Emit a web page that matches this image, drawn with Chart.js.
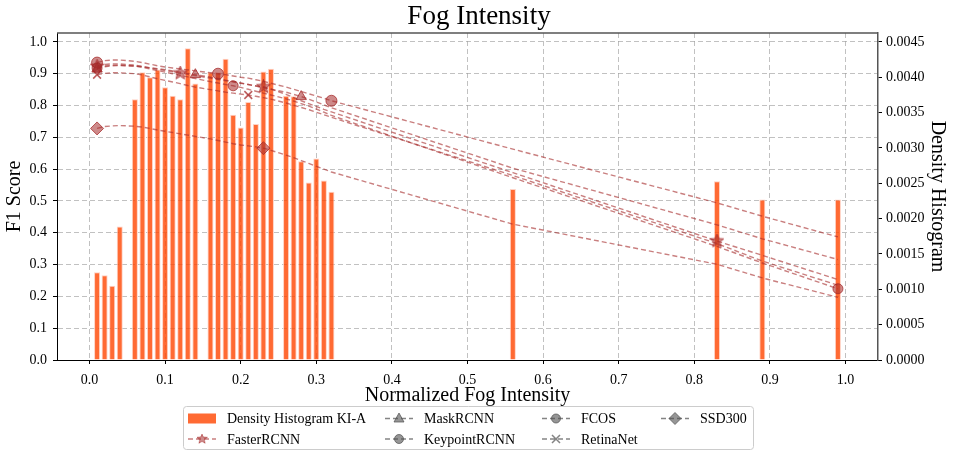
<!DOCTYPE html>
<html>
<head>
<meta charset="utf-8">
<script src="https://cdn.jsdelivr.net/npm/chart.js@4.4.1/dist/chart.umd.min.js"></script>
<style>
  html, body { margin: 0; padding: 0; background: #fff; }
  #wrap { width: 958px; height: 455px; }
</style>
</head>
<body>
<div id="wrap"><canvas id="fog" width="958" height="455"></canvas></div>
<script>
// bin centres of the fog intensity histogram (also the x of every curve point)
const binX = [0.01, 0.02, 0.03, 0.04,
  0.06, 0.07, 0.08, 0.09, 0.10, 0.11, 0.12, 0.13, 0.14,
  0.16, 0.17, 0.18, 0.19, 0.20, 0.21, 0.22, 0.23, 0.24,
  0.26, 0.27, 0.28, 0.29, 0.30, 0.31, 0.32,
  0.56, 0.83, 0.89, 0.99];

const densityKIA = [0.00124, 0.00120, 0.00105, 0.00189,
  0.00369, 0.00407, 0.00400, 0.00411, 0.00386, 0.00374, 0.00369, 0.00441, 0.00391,
  0.00407, 0.00407, 0.00426, 0.00347, 0.00329, 0.00365, 0.00334, 0.00408, 0.00412,
  0.00374, 0.00373, 0.00281, 0.00251, 0.00285, 0.00254, 0.00238,
  0.00242, 0.00253, 0.00227, 0.00227];

const fasterRCNN = [0.923, 0.929, 0.931, 0.931,
  0.927, 0.923, 0.918, 0.914, 0.910, 0.906, 0.902, 0.898, 0.894,
  0.886, 0.882, 0.878, 0.874, 0.870, 0.866, 0.862, 0.859, 0.852,
  0.835, 0.825, 0.815, 0.806, 0.797, 0.788, 0.780,
  0.589, 0.374, 0.329, 0.253];

const maskRCNN = [0.915, 0.922, 0.925, 0.926,
  0.924, 0.922, 0.919, 0.916, 0.913, 0.909, 0.905, 0.901, 0.897,
  0.889, 0.885, 0.880, 0.876, 0.871, 0.866, 0.861, 0.856, 0.851,
  0.842, 0.835, 0.828, 0.820, 0.811, 0.802, 0.793,
  0.603, 0.425, 0.381, 0.316];

const keypointRCNN = [0.935, 0.941, 0.943, 0.943,
  0.939, 0.935, 0.930, 0.925, 0.921, 0.918, 0.915, 0.912, 0.909,
  0.903, 0.900, 0.897, 0.893, 0.889, 0.886, 0.881, 0.876, 0.870,
  0.858, 0.851, 0.844, 0.837, 0.830, 0.823, 0.815,
  0.663, 0.494, 0.452, 0.387];

const fcos = [0.918, 0.924, 0.927, 0.927,
  0.924, 0.920, 0.915, 0.910, 0.905, 0.900, 0.895, 0.890, 0.885,
  0.875, 0.871, 0.866, 0.862, 0.857, 0.851, 0.845, 0.839, 0.833,
  0.821, 0.814, 0.806, 0.798, 0.789, 0.779, 0.769,
  0.573, 0.357, 0.305, 0.224];

const retinaNet = [0.897, 0.901, 0.903, 0.903,
  0.900, 0.896, 0.890, 0.884, 0.879, 0.874, 0.869, 0.863, 0.858,
  0.850, 0.846, 0.842, 0.839, 0.836, 0.833, 0.829, 0.825, 0.820,
  0.808, 0.801, 0.794, 0.787, 0.779, 0.771, 0.763,
  0.580, 0.366, 0.311, 0.235];

const ssd300 = [0.728, 0.734, 0.736, 0.737,
  0.735, 0.732, 0.728, 0.723, 0.719, 0.715, 0.711, 0.707, 0.703,
  0.695, 0.690, 0.685, 0.680, 0.676, 0.673, 0.670, 0.666, 0.659,
  0.644, 0.636, 0.627, 0.618, 0.609, 0.600, 0.591,
  0.427, 0.301, 0.258, 0.197];

const FONT = "'Liberation Serif', 'DejaVu Serif', serif";
const lineColor = 'rgba(165,42,42,0.6)';
const markFill = 'rgba(165,42,42,0.55)';
const markEdge = 'rgba(165,42,42,0.75)';
const legendGray = 'rgba(80,80,80,0.7)';

Chart.defaults.font.family = FONT;
Chart.defaults.color = '#000';

function makeStar(size, fill, stroke) {
    const c = document.createElement('canvas');
    c.width = size; c.height = size;
    const g = c.getContext('2d');
    const cx = size / 2, cy = size / 2;
    g.beginPath();
    for (let i = 0; i < 10; i++) {
        const a = -Math.PI / 2 + i * Math.PI / 5;
        const r = i % 2 ? size * 0.21 : size * 0.48;
        const px = cx + r * Math.cos(a), py = cy + r * Math.sin(a);
        if (i == 0) g.moveTo(px, py); else g.lineTo(px, py);
    }
    g.closePath();
    g.fillStyle = fill;
    g.fill();
    g.strokeStyle = stroke;
    g.lineWidth = 1;
    g.stroke();
    return c;
}
const starImg = makeStar(15, markFill, markEdge);

function toPoints(arr) {
    return binX.map((x, i) => ({ x: x, y: arr[i] }));
}

function curve(label, arr, style, radius, every) {
    return {
        type: 'line',
        label: label,
        data: toPoints(arr),
        yAxisID: 'y',
        order: 1,
        borderColor: lineColor,
        borderWidth: 1.4,
        borderDash: [5, 3],
        fill: false,
        tension: 0,
        pointStyle: style,
        pointRadius: (ctx) => ctx.dataIndex % every === 0 ? radius : 0,
        pointHoverRadius: 0,
        pointBackgroundColor: markFill,
        pointBorderColor: markEdge,
        pointBorderWidth: style == 'crossRot' ? 1.6 : 1
    };
}

const datasets = [
    {
        type: 'bar',
        label: 'Density Histogram KI-A',
        data: toPoints(densityKIA),
        yAxisID: 'y2',
        order: 10,
        backgroundColor: 'rgba(255,69,0,0.8)',
        borderColor: 'rgba(255,205,190,0.9)',
        borderWidth: 1,
        barPercentage: 0.8,
        categoryPercentage: 1
    },
    curve('FasterRCNN', fasterRCNN, starImg, 7, 10),
    curve('MaskRCNN', maskRCNN, 'triangle', 6, 12),
    curve('KeypointRCNN', keypointRCNN, 'circle', 5.5, 14),
    curve('FCOS', fcos, 'circle', 5, 16),
    curve('RetinaNet', retinaNet, 'crossRot', 5.5, 18),
    curve('SSD300', ssd300, 'rectRot', 6.5, 20)
];

function drawMarker(ctx, style, x, y, fill, edge) {
    ctx.save();
    ctx.fillStyle = fill;
    ctx.strokeStyle = edge;
    ctx.lineWidth = 1;
    ctx.beginPath();
    if (style === starImg) {
        ctx.drawImage(starImg, x - 5.5, y - 5.5, 11, 11);
        ctx.restore();
        return;
    }
    if (style == 'triangle') {
        ctx.moveTo(x, y - 5.5);
        ctx.lineTo(x + 5, y + 3.5);
        ctx.lineTo(x - 5, y + 3.5);
        ctx.closePath();
        ctx.fill(); ctx.stroke();
    } else if (style == 'circle') {
        ctx.arc(x, y, 4.5, 0, Math.PI * 2);
        ctx.fill(); ctx.stroke();
    } else if (style == 'crossRot') {
        ctx.lineWidth = 1.5;
        ctx.moveTo(x - 4, y - 4); ctx.lineTo(x + 4, y + 4);
        ctx.moveTo(x + 4, y - 4); ctx.lineTo(x - 4, y + 4);
        ctx.stroke();
    } else if (style == 'rectRot') {
        ctx.moveTo(x, y - 6); ctx.lineTo(x + 6, y);
        ctx.lineTo(x, y + 6); ctx.lineTo(x - 6, y);
        ctx.closePath();
        ctx.fill(); ctx.stroke();
    }
    ctx.restore();
}

// legend in the matplotlib style: 4 columns, filled column by column
const legendPlugin = {
    id: 'boxLegend',
    afterDraw(chart) {
        const ctx = chart.ctx;
        const box = { x: 183.5, y: 406.5, w: 570, h: 43 };
        ctx.save();
        ctx.fillStyle = 'rgba(255,255,255,0.9)';
        ctx.strokeStyle = '#cccccc';
        ctx.lineWidth = 1;
        ctx.beginPath();
        ctx.roundRect(box.x, box.y, box.w, box.h, 3);
        ctx.fill();
        ctx.stroke();

        const cols = [188, 385, 542, 661];
        const rows = [418.5, 439];
        // Density, Faster | Mask, Keypoint | FCOS, Retina | SSD
        const slots = [[0, 0], [0, 1], [1, 0], [1, 1], [2, 0], [2, 1], [3, 0]];
        ctx.font = '14px ' + FONT;
        ctx.textBaseline = 'middle';
        ctx.textAlign = 'left';
        chart.data.datasets.forEach((ds, di) => {
            const hx = cols[slots[di][0]];
            const hy = rows[slots[di][1]];
            if (ds.type == 'bar') {
                ctx.fillStyle = ds.backgroundColor;
                ctx.fillRect(hx, hy - 5, 28, 10);
            } else {
                const col = di == 1 ? lineColor : legendGray;
                const fillCol = di == 1 ? markFill : 'rgba(80,80,80,0.6)';
                ctx.strokeStyle = col;
                ctx.lineWidth = 1.4;
                ctx.setLineDash([5, 3]);
                ctx.beginPath();
                ctx.moveTo(hx, hy);
                ctx.lineTo(hx + 28, hy);
                ctx.stroke();
                ctx.setLineDash([]);
                drawMarker(ctx, ds.pointStyle, hx + 14, hy, fillCol, col);
            }
            ctx.fillStyle = '#000';
            ctx.fillText(ds.label, hx + 39, hy + 1);
        });
        ctx.restore();
    }
};

// top spine (matplotlib frame)
const framePlugin = {
    id: 'frameTop',
    afterDatasetsDraw(chart) {
        const a = chart.chartArea;
        const ctx = chart.ctx;
        ctx.save();
        ctx.strokeStyle = '#555';
        ctx.lineWidth = 1.5;
        ctx.beginPath();
        ctx.moveTo(a.left, a.top);
        ctx.lineTo(a.right, a.top);
        ctx.stroke();
        ctx.restore();
    }
};

const gridColor = 'rgba(160,160,160,0.65)';
const tickFont = { family: FONT, size: 14 };
const axisTitleFont = { family: FONT, size: 20 };

new Chart(document.getElementById('fog'), {
    type: 'bar',
    data: { datasets: datasets },
    plugins: [framePlugin, legendPlugin],
    options: {
        responsive: false,
        animation: false,
        devicePixelRatio: 1,
        layout: { padding: { top: 0, left: 0, right: 0, bottom: 47 } },
        plugins: {
            legend: { display: false },
            tooltip: { enabled: false },
            title: {
                display: true,
                text: 'Fog Intensity',
                color: '#000',
                font: { family: FONT, size: 27, weight: 'normal', lineHeight: '33px' },
                padding: { top: 0, bottom: 0 }
            }
        },
        scales: {
            x: {
                type: 'linear',
                min: -0.043,
                max: 1.043,
                offset: false,
                afterFit: (scale) => { scale.height = 48; },
                ticks: {
                    stepSize: 0.1,
                    includeBounds: false,
                    autoSkip: false,
                    maxRotation: 0,
                    padding: 8,
                    font: tickFont,
                    color: '#000',
                    callback: (v) => v.toFixed(1)
                },
                grid: { color: gridColor, lineWidth: 1, tickLength: 4, tickColor: '#000', offset: false },
                border: { color: '#000', width: 1, dash: [5, 3] },
                title: {
                    display: true,
                    text: 'Normalized Fog Intensity',
                    font: axisTitleFont,
                    color: '#000',
                    padding: { top: 0, bottom: 0 }
                }
            },
            y: {
                position: 'left',
                min: 0,
                max: 1.028,
                afterFit: (scale) => { scale.width = 57; },
                ticks: {
                    stepSize: 0.1,
                    includeBounds: false,
                    padding: 6,
                    font: tickFont,
                    color: '#000',
                    callback: (v) => v.toFixed(1)
                },
                grid: { color: gridColor, lineWidth: 1, tickLength: 4, tickColor: '#000' },
                border: { color: '#000', width: 1, dash: [5, 3] },
                title: {
                    display: true,
                    text: 'F1 Score',
                    font: axisTitleFont,
                    color: '#000',
                    padding: { top: 3, bottom: 0 }
                }
            },
            y2: {
                position: 'right',
                min: 0,
                max: 0.004626,
                afterFit: (scale) => { scale.width = 80; },
                ticks: {
                    stepSize: 0.0005,
                    includeBounds: false,
                    padding: 4,
                    font: tickFont,
                    color: '#000',
                    callback: (v) => v.toFixed(4)
                },
                grid: { drawOnChartArea: false, tickLength: 4, tickColor: '#000' },
                border: { color: '#555', width: 1.5 },
                title: {
                    display: true,
                    text: 'Density Histogram',
                    font: axisTitleFont,
                    color: '#000',
                    padding: { top: 9, bottom: 0 }
                }
            }
        }
    }
});
</script>
</body>
</html>
